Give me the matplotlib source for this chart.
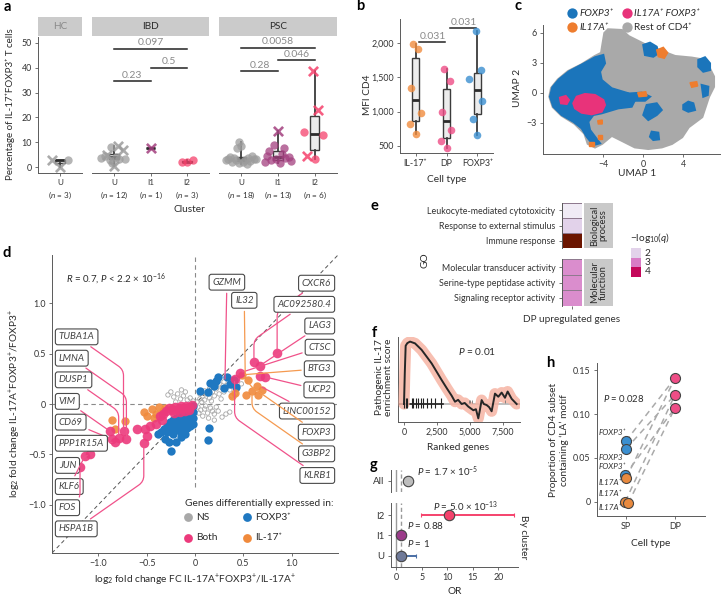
import numpy as np
import matplotlib
matplotlib.use("Agg")
import matplotlib.pyplot as plt
from matplotlib.colors import LinearSegmentedColormap

plt.rcParams["font.family"] = ["Lato", "DejaVu Sans"]
plt.rcParams["mathtext.fontset"] = "custom"
plt.rcParams["mathtext.rm"] = "Lato"
plt.rcParams["mathtext.it"] = "Lato:italic"
plt.rcParams["mathtext.bf"] = "Lato:bold"
plt.rcParams["axes.linewidth"] = 0.7
plt.rcParams["axes.edgecolor"] = "#5a5a5a"
plt.rcParams["text.color"] = "#2b2b2b"
plt.rcParams["xtick.color"] = "#5a5a5a"
plt.rcParams["ytick.color"] = "#5a5a5a"
plt.rcParams["xtick.labelcolor"] = "#333333"
plt.rcParams["ytick.labelcolor"] = "#333333"
plt.rcParams["xtick.labelsize"] = 6.4
plt.rcParams["ytick.labelsize"] = 6.4
plt.rcParams["xtick.major.size"] = 2.5
plt.rcParams["ytick.major.size"] = 2.5
plt.rcParams["xtick.major.width"] = 0.6
plt.rcParams["ytick.major.width"] = 0.6
plt.rcParams["xtick.major.pad"] = 2
plt.rcParams["ytick.major.pad"] = 2

# ================= data =================
# a: % IL-17+FOXP3+ per cluster
a_facets = ["HC", "IBD", "PSC"]
a_clusters = {"HC": ["U"], "IBD": ["U", "I1", "I2"], "PSC": ["U", "I1", "I2"]}
a_n = {"HC": [3], "IBD": [12, 1, 3], "PSC": [18, 13, 6]}
a_vals = {
    ("HC", "U"): [3.0, 0.2, 3.1],
    ("IBD", "U"): [8.7, 8.3, 7.0, 5.0, 4.3, 3.6, 3.5, 3.2, 2.9, 1.8, 0.7, 4.6],
    ("IBD", "I1"): [7.7],
    ("IBD", "I2"): [2.2, 2.2, 2.8],
    ("PSC", "U"): [10.0, 8.5, 7.8, 4.5, 4.1, 3.8, 3.6, 3.4, 3.2, 3.0, 2.8, 2.6, 2.3, 2.0, 1.7, 1.4, 3.5, 2.9],
    ("PSC", "I1"): [14.5, 9.0, 7.8, 6.5, 5.3, 4.5, 4.2, 3.8, 3.0, 2.6, 2.2, 1.8, 3.4],
    ("PSC", "I2"): [38.5, 23.0, 14.0, 13.0, 4.7, 3.5],
}
a_marks = {
    ("HC", "U"): "xxo",
    ("IBD", "U"): "xoxxooooooxo",
    ("IBD", "I1"): "x",
    ("IBD", "I2"): "ooo",
    ("PSC", "U"): "oooooooooooooooooo",
    ("PSC", "I1"): "xoooooooooooo",
    ("PSC", "I2"): "xxooxo",
}
a_jit = {
    ("HC", "U"): [-0.22, 0.0, 0.22],
    ("IBD", "U"): [0.1, -0.08, 0.25, -0.2, 0.05, -0.35, 0.3, 0.15, -0.1, -0.05, 0.0, -0.25],
    ("IBD", "I1"): [0.0],
    ("IBD", "I2"): [-0.15, 0.0, 0.15],
    ("PSC", "U"): [-0.05, 0.0, -0.1, 0.3, -0.3, 0.2, -0.2, 0.35, -0.35, 0.1, -0.15, 0.25, -0.25, 0.05, -0.05, 0.15, 0.4, -0.4],
    ("PSC", "I1"): [0.0, -0.1, 0.15, -0.25, 0.1, -0.3, 0.3, 0.2, -0.2, 0.35, -0.35, 0.05, -0.05],
    ("PSC", "I2"): [-0.05, 0.08, -0.3, 0.22, -0.22, 0.0],
}
a_pvals = {"IBD": [(0, 1, 34.5, "0.23"), (1, 2, 40.0, "0.5"), (0, 2, 47.5, "0.097")],
           "PSC": [(0, 1, 38.5, "0.28"), (1, 2, 43.0, "0.046"), (0, 2, 48.0, "0.0058")]}

# b: MFI CD4
b_types = ["IL-17⁺", "DP", "FOXP3⁺"]
b_vals = [[1980, 1920, 1350, 980, 820, 680],
          [1620, 1450, 1000, 730, 570, 470],
          [2180, 1600, 1480, 1160, 900, 660]]
b_jit = [[-0.08, 0.09, -0.13, 0.19, -0.18, 0.01],
         [-0.08, 0.11, -0.16, 0.16, -0.18, 0.0],
         [-0.05, 0.11, -0.26, 0.14, -0.16, 0.0]]
b_pvals = [(0, 1, 2010, "0.031"), (1, 2, 2215, "0.031")]

# c: UMAP region outlines (UMAP units)
c_rest = [(-3.47, 6.3), (-2.13, 6.23), (-1.47, 5.63), (-0.47, 5.13), (0.53, 4.63), (3.2, 3.63), (4.87, 3.47),
          (5.87, 3.3), (6.53, 2.63), (7.03, 1.63), (7.03, 0.63), (6.53, -0.37), (6.2, -1.37), (5.87, -2.37),
          (4.53, -3.37), (3.87, -4.37), (2.87, -5.03), (1.87, -5.37), (0.53, -5.53), (-0.8, -5.37),
          (-2.13, -4.7), (-3.13, -4.2), (-4.13, -5.03), (-4.8, -5.37), (-5.47, -5.03), (-5.8, -4.03),
          (-6.8, -3.03), (-8.13, -2.2), (-8.97, -1.37), (-9.3, -0.37), (-9.13, 0.47), (-8.47, 1.3),
          (-7.47, 2.13), (-6.13, 2.8), (-4.8, 3.63), (-4.13, 3.97), (-3.97, 4.97), (-3.8, 5.97)]
c_foxp3 = [
    [(-3.97, 3.8), (-3.8, 2.97), (-4.3, 2.13), (-4.13, 1.3), (-3.13, 0.47), (-1.47, -0.03), (-0.8, -0.7),
     (-1.13, -1.37), (-2.47, -1.53), (-4.13, -2.03), (-4.97, -2.2), (-5.47, -2.87), (-5.3, -3.7),
     (-4.8, -4.37), (-4.3, -5.03), (-4.97, -5.2), (-5.63, -4.37), (-6.13, -3.53), (-6.97, -2.87),
     (-8.13, -2.2), (-8.97, -1.37), (-9.3, -0.37), (-9.07, 0.57), (-8.4, 1.37), (-7.4, 2.17),
     (-6.07, 2.87), (-4.8, 3.57)],
    [(0.03, 4.8), (0.7, 5.03), (1.37, 4.63), (1.53, 3.97), (1.03, 3.63), (0.2, 3.8)],
    [(5.53, 3.3), (6.2, 3.57), (6.7, 2.97), (6.7, 2.3), (6.03, 2.13), (5.53, 2.63)],
    [(4.03, -1.2), (4.53, -0.87), (5.03, -1.03), (5.2, -1.7), (4.53, -1.87), (4.03, -1.63)],
    [(5.87, 0.8), (6.53, 0.63), (6.47, -0.2), (6.03, -0.37)],
    [(0.37, -1.2), (1.37, -1.03), (1.87, -1.7), (1.37, -2.2), (0.53, -2.7), (0.03, -2.2)],
    [(0.87, -3.87), (1.53, -3.97), (1.6, -4.63), (1.03, -4.7), (0.7, -4.37)],
    [(-2.13, -0.1), (-0.13, 0.03), (0.7, -0.37), (0.2, -0.77), (-1.13, -0.77)],
]
c_dp = [
    [(-6.97, -1.03), (-6.63, -0.37), (-5.8, -0.1), (-4.8, -0.2), (-3.97, -0.7), (-3.8, -1.2), (-4.13, -1.87),
     (-5.13, -2.13), (-6.13, -1.97), (-6.8, -1.53)],
    [(-8.3, -0.47), (-7.73, -0.3), (-7.4, -0.7), (-7.63, -1.1), (-8.2, -1.03)],
]
c_il17 = [
    [(1.37, 4.3), (2.03, 4.57), (2.47, 4.03), (2.13, 3.47), (1.53, 3.63)],
    [(4.7, 1.03), (5.37, 1.13), (5.47, 0.7), (4.87, 0.57)],
    [(-0.53, 0.03), (0.27, 0.13), (0.4, -0.3), (-0.4, -0.37)],
    [(-4.53, -2.77), (-4.07, -2.7), (-4.07, -3.1), (-4.47, -3.1)],
    [(-4.53, -4.2), (-4.07, -4.2), (-4.07, -4.63), (-4.53, -4.63)],
    [(-5.37, -4.87), (-4.93, -4.87), (-4.93, -5.27), (-5.37, -5.27)],
]

# d: log2 fold changes
d_ns_x = [0.02, 0.05, 0.08, 0.10, 0.12, 0.15, 0.18, 0.20, 0.22, 0.25, 0.28, 0.30, 0.33, 0.36, 0.40, 0.44, 0.48,
          0.38, 0.42, 0.05, 0.10, 0.15, 0.20, 0.25, 0.30, 0.07, 0.17, 0.27,
          0.03, 0.06, 0.10, 0.13, 0.16, 0.20, 0.24, 0.28, 0.32, 0.08, 0.14, 0.20, 0.04, 0.22, 0.36, 0.11, 0.18,
          -0.02, -0.05, -0.08, -0.12, -0.15, -0.18, -0.22, -0.25, -0.28, -0.10, -0.14, -0.20]
d_ns_y = [0.02, 0.05, 0.08, 0.04, 0.10, 0.06, 0.12, 0.08, 0.15, 0.10, 0.16, 0.12, 0.18, 0.14, 0.18, 0.15, 0.20,
          0.08, 0.10, 0.10, 0.13, 0.15, 0.18, 0.20, 0.22, 0.02, 0.03, 0.05,
          -0.03, -0.06, -0.05, -0.09, -0.04, -0.10, -0.07, -0.13, -0.10, -0.12, -0.14, -0.16, -0.09, -0.03, -0.08, -0.02, -0.07,
          0.03, 0.06, 0.04, 0.08, 0.05, 0.10, 0.07, 0.12, 0.09, 0.12, 0.14, 0.02]
d_fox_x = [-0.02, -0.02, -0.02, -0.02, -0.05, -0.05, -0.05, -0.05, -0.08, -0.08, -0.08, -0.08,
           -0.11, -0.11, -0.11, -0.11, -0.14, -0.14, -0.14, -0.14, -0.17, -0.17, -0.17, -0.20, -0.20, -0.20,
           -0.23, -0.23, -0.23, -0.26, -0.26, -0.29, -0.29, -0.32, -0.35, -0.38,
           -0.27, -0.20, -0.15, -0.25, -0.10, -0.31, 0.14, 0.13,
           0.05, 0.13, 0.16, 0.20, 0.24, 0.22, 0.33, 0.36, 0.40, 0.42, 0.30]
d_fox_y = [-0.02, -0.08, -0.14, -0.20, -0.04, -0.10, -0.16, -0.22, -0.06, -0.12, -0.18, -0.24,
           -0.08, -0.14, -0.20, -0.26, -0.10, -0.16, -0.22, -0.28, -0.12, -0.18, -0.24, -0.14, -0.20, -0.26,
           -0.16, -0.22, -0.30, -0.18, -0.25, -0.22, -0.28, -0.25, -0.28, -0.30,
           -0.38, -0.38, -0.33, -0.47, -0.30, -0.35, -0.24, -0.36,
           0.13, 0.12, 0.21, 0.18, 0.27, 0.23, 0.27, 0.20, 0.24, 0.17, 0.16]
d_both_x = [-0.03, -0.06, -0.09, -0.12, -0.15, -0.18, -0.21, -0.24, -0.27, -0.30, -0.10, -0.16, -0.22, -0.06,
            -0.33, -0.36, -0.88, -0.74, -0.71, -0.79, -0.60, -0.52, -0.50, -0.53, -0.47, -0.40, -0.34,
            -0.86, -0.83, -1.09, -1.14, -1.19, 0.85, 0.61, 0.67, 0.67, 0.72, 0.465, 0.41]
d_both_y = [-0.01, -0.03, -0.02, -0.04, -0.02, -0.05, -0.03, -0.06, -0.04, -0.07, -0.07, -0.08, -0.09, -0.06,
            -0.10, -0.12, -0.27, -0.27, -0.35, -0.34, -0.25, -0.25, -0.32, -0.39, -0.22, -0.20, -0.155,
            -0.35, -0.38, -0.50, -0.52, -0.63, 0.51, 0.42, 0.38, 0.28, 0.27, 0.31, 0.25]
d_il17_x = [-0.86, -0.83, -0.72, -0.53, -0.50, -0.45, -0.40, -0.42, -0.33, -0.31, -0.24, -0.37,
            0.55, 0.64, 0.69, 0.655, 0.59, 0.53, 0.41, 0.38, 0.49]
d_il17_y = [-0.155, -0.25, -0.17, -0.08, -0.12, -0.05, -0.10, -0.14, -0.07, -0.04, -0.04, -0.03,
            0.24, 0.18, 0.14, 0.09, 0.125, 0.09, 0.11, 0.075, 0.29]
d_lab_left = ["TUBA1A", "LMNA", "DUSP1", "VIM", "CD69", "PPP1R15A", "JUN", "KLF6", "FOS", "HSPA1B"]
d_lab_left_y = [0.667, 0.455, 0.24, 0.026, -0.18, -0.39, -0.61, -0.82, -1.03, -1.24]
d_lab_left_pt = [(-0.74, -0.27), (-0.71, -0.35), (-0.79, -0.34), (-0.88, -0.27), (-0.86, -0.35),
                 (-0.83, -0.38), (-1.09, -0.50), (-1.14, -0.52), (-1.19, -0.63), (-0.53, -0.39)]
d_lab_right = ["CXCR6", "AC092580.4", "LAG3", "CTSC", "BTG3", "UCP2", "LINC00152", "FOXP3", "G3BP2", "KLRB1"]
d_lab_right_y = [1.20, 0.99, 0.775, 0.564, 0.35, 0.14, -0.07, -0.28, -0.495, -0.71]
d_lab_right_pt = [(0.85, 0.51), (0.61, 0.42), (0.67, 0.38), (0.465, 0.31), (0.49, 0.29), (0.72, 0.27),
                  (0.67, 0.18), (0.55, 0.24), (0.59, 0.125), (0.41, 0.25)]
d_lab_right_grp = ["Both", "Both", "Both", "Both", "IL-17", "Both", "Both", "IL-17", "IL-17", "Both"]
d_lab_top = ["GZMM", "IL32"]
d_lab_top_xy = [(0.33, 1.21), (0.51, 1.03)]
d_lab_top_pt = [(0.31, 0.22), (0.52, 0.27)]
d_lab_top_grp = ["Both", "IL-17"]

# e: GO enrichment
e_terms_bp = ["Leukocyte-mediated cytotoxicity", "Response to external stimulus", "Immune response"]
e_q_bp = [1.6, 2.0, 6.0]
e_terms_mf = ["Molecular transducer activity", "Serine-type peptidase activity", "Signaling receptor activity"]
e_q_mf = [2.8, 2.8, 2.8]

# f: enrichment curve
f_rank = [0, 60, 126, 250, 455, 833, 1338, 2096, 2854, 3300, 3611, 3864, 4100, 4369, 4600, 4874, 5253,
          5450, 5631, 5760, 5884, 6050, 6263, 6450, 6641, 6894, 7146, 7399, 7652, 7854, 8157, 8535]
f_es = [0, 0.30, 0.56, 0.585, 0.60, 0.583, 0.52, 0.39, 0.23, 0.14, 0.08, 0.022, 0.04, 0.0, 0.01, -0.025,
        -0.06, -0.05, -0.138, -0.05, 0.038, 0.0, -0.01, -0.03, -0.07, 0.10, 0.07, 0.11, 0.06, 0.12, 0.05, 0.0]
f_hits = [25, 126, 253, 580, 707, 884, 1086, 1288, 1465, 1717, 2045, 2348, 2803]
f_hits_late = [4900, 5020, 5150, 7650]

# g: odds ratios
g_rows = ["I2", "I1", "U"]
g_or = [10.4, 0.95, 0.9]
g_lo = [4.9, 0.7, 0.0]
g_hi = [23.0, 1.3, 3.8]
g_p = ["$P$ = 5.0 × 10$^{-13}$", "$P$ = 0.88", "$P$ = 1"]
g_all = (2.3, 1.7, 3.0)
g_all_p = "$P$ = 1.7 × 10$^{-5}$"

# h: LA motif proportions
h_sp_foxp3 = [0.069, 0.060, 0.030]
h_sp_il17 = [0.027, 0.000, -0.002]
h_dp = [0.141, 0.122, 0.107]
h_labels = ["FOXP3⁺", "FOXP3", "FOXP3⁺", "IL17A⁺", "IL17A⁺", "IL17A⁺"]
h_label_y = [0.0785, 0.0506, 0.0403, 0.0218, 0.0088, -0.0069]

# ================= colours =================
GREY = "#9c9c9c"
PURPLE = "#a3407f"
RED = "#f5426c"
a_col = {"U": GREY, "I1": PURPLE, "I2": RED}
b_col = ["#f08c3e", "#ee4d86", "#3b8fd0"]
grp_col = {"Both": "#f0528a", "IL-17": "#f59a50"}

W, H = 721, 598
fig = plt.figure(figsize=(W / 100, H / 100), dpi=100)


def add_ax(l, t, r, b):
    return fig.add_axes([l / W, 1 - b / H, (r - l) / W, (b - t) / H])


def clean(ax):
    ax.spines["top"].set_visible(False)
    ax.spines["right"].set_visible(False)


ov = fig.add_axes([0, 0, 1, 1], zorder=20)
ov.set_xlim(0, W)
ov.set_ylim(H, 0)
ov.axis("off")


def otext(x, y, s, **kw):
    kw.setdefault("fontsize", 7.3)
    kw.setdefault("ha", "center")
    kw.setdefault("va", "center")
    ov.text(x, y, s, **kw)


# ================= a =================
a_px = {"HC": (38, 82), "IBD": (92, 209), "PSC": (219, 337)}
for f in a_facets:
    l, r = a_px[f]
    ax = add_ax(l, 37, r, 173)
    clean(ax)
    cls = a_clusters[f]
    for i, cl in enumerate(cls):
        vals = a_vals[(f, cl)]
        ax.boxplot([vals], positions=[i], widths=0.25, whis=(0, 100), showfliers=False,
                   patch_artist=True, manage_ticks=False,
                   boxprops=dict(facecolor="#ececec", edgecolor="#3c3c3c", linewidth=1.0),
                   medianprops=dict(color="#2c2c2c", linewidth=2.0),
                   whiskerprops=dict(color="#3c3c3c", linewidth=1.3),
                   capprops=dict(linewidth=0))
        for v, j, m in zip(vals, a_jit[(f, cl)], a_marks[(f, cl)]):
            if m == "o":
                ax.scatter(i + j, v, s=36, color=a_col[cl], alpha=0.75, linewidths=0, zorder=3)
            else:
                ax.scatter(i + j, v, s=44, marker="x", color=a_col[cl], alpha=0.85, linewidths=1.9, zorder=3)
    for i0, i1, yb, lab in a_pvals.get(f, []):
        ax.plot([i0, i1], [yb, yb], color="#222222", lw=1.1)
        ax.text((i0 + i1) / 2, yb + 0.6, lab, ha="center", va="bottom", fontsize=7.5, color="#8a8a8a")
    ax.set_xlim(-0.6, len(cls) - 0.4)
    ax.set_ylim(-2.3, 52.3)
    ax.set_xticks(range(len(cls)))
    ax.set_xticklabels([f"{c}\n($n$ = {n})" for c, n in zip(cls, a_n[f])], fontsize=5.9, linespacing=1.4)
    if f == "HC":
        ax.set_yticks([0, 10, 20, 30, 40, 50])
    else:
        ax.spines["left"].set_visible(False)
        ax.set_yticks([])
    st = add_ax(l, 17, r, 36)
    st.set_facecolor("#cbcbcb")
    st.set_xticks([])
    st.set_yticks([])
    for s in st.spines.values():
        s.set_visible(False)
    st.text(0.5, 0.5, f, ha="center", va="center", fontsize=7.2,
            color="#8a8a8a" if f == "HC" else "#2b2b2b", transform=st.transAxes)

otext(10, 104, "Percentage of IL-17⁺FOXP3⁺ T cells", rotation=90, fontsize=7)
otext(189, 209, "Cluster")

# ================= b =================
ax = add_ax(400, 19, 493, 153)
clean(ax)
for i, vals in enumerate(b_vals):
    ax.boxplot([vals], positions=[i], widths=0.2, whis=(0, 100), showfliers=False,
               patch_artist=True, manage_ticks=False,
               boxprops=dict(facecolor="#ececec", edgecolor="#3c3c3c", linewidth=1.0),
               medianprops=dict(color="#2c2c2c", linewidth=2.0),
               whiskerprops=dict(color="#3c3c3c", linewidth=1.3),
               capprops=dict(linewidth=0))
    ax.scatter(np.array(b_jit[i]) + i, vals, s=30, color=b_col[i], alpha=0.8, linewidths=0, zorder=3)
for i0, i1, yb, lab in b_pvals:
    ax.plot([i0 + 0.1, i1 - 0.05], [yb, yb], color="#222222", lw=1.1)
    ax.text((i0 + i1) / 2 + 0.05, yb + 20, lab, ha="center", va="bottom", fontsize=7.5, color="#8a8a8a")
ax.set_xlim(-0.5, 2.5)
ax.set_ylim(398, 2350)
ax.set_yticks([500, 1000, 1500, 2000])
ax.set_yticklabels(["500", "1,000", "1,500", "2,000"])
ax.set_xticks([0, 1, 2])
ax.set_xticklabels(b_types)
otext(447, 180, "Cell type")
otext(367, 95, "MFI CD4", rotation=90)

# ================= c =================
ax = add_ax(543, 25, 720, 154)
clean(ax)
ax.fill(*zip(*c_rest), color="#a9a9a9", lw=2.5, ec="#a9a9a9")
for poly in c_foxp3:
    ax.fill(*zip(*poly), color="#1b75bb", lw=1.5, ec="#1b75bb")
for poly in c_il17:
    ax.fill(*zip(*poly), color="#ee7d2f", lw=1.0, ec="#ee7d2f")
for poly in c_dp:
    ax.fill(*zip(*poly), color="#e8337a", lw=1.5, ec="#e8337a")
ax.set_xlim(-10, 7.7)
ax.set_ylim(-6.1, 6.8)
ax.set_xticks([-4, 0, 4])
ax.set_yticks([-3, 0, 3, 6])
otext(637, 173, "UMAP 1")
otext(518, 88, "UMAP 2", rotation=90)
for (mx, my), col, lab in zip([(572, 13), (627, 13), (572, 27), (627, 27)],
                              ["#1b75bb", "#e8337a", "#ee7d2f", "#a9a9a9"],
                              ["FOXP3⁺", "IL17A⁺ FOXP3⁺", "IL17A⁺", "Rest of CD4⁺"]):
    ov.scatter(mx, my, s=55, color=col, linewidths=0)
    otext(mx + 7, my, lab, ha="left", fontstyle="normal" if lab.startswith("Rest") else "italic")

# ================= d =================
ax = add_ax(52, 255, 338, 553)
clean(ax)
dash = (0, (4, 3))
ax.axhline(0, color="#8a8a8a", lw=0.8, ls=dash, zorder=1)
ax.plot([0, 0], [-0.82, 1.48], color="#8a8a8a", lw=0.8, ls=dash, zorder=1)
ax.plot([-1.48, 1.48], [-1.48, 1.48], color="#555555", lw=0.7, ls=dash, zorder=1)
ax.scatter(d_ns_x, d_ns_y, s=10, facecolors="none", edgecolors="#a8a8a8", linewidths=0.6, zorder=2)
ax.scatter(d_fox_x, d_fox_y, s=36, color="#1f78c1", linewidths=0, zorder=3)
ax.scatter(d_il17_x, d_il17_y, s=36, color="#f08a3c", alpha=0.9, linewidths=0, zorder=4)
ax.scatter(d_both_x, d_both_y, s=48, color="#ec3a7c", alpha=0.9, linewidths=0, zorder=5)
box = dict(boxstyle="round,pad=0.35,rounding_size=0.25", fc="white", ec="#4a4a4a", lw=0.8)


def d_label(lab, xy, pt, g, ha):
    dy = pt[1] - xy[1]
    if ha == "center" or abs(dy) < 0.4:
        cs = "arc3"
    else:
        ang = 35 if dy > 0 else -35
        if ha == "right":
            ang = -ang
        cs = f"angle,angleA={ang},angleB=90,rad=6"
    ax.annotate(lab, xy=pt, xytext=xy, ha=ha, va="center", fontsize=7, fontstyle="italic",
                color="#444444", bbox=box, zorder=6,
                arrowprops=dict(arrowstyle="-", color=grp_col[g], lw=0.9, shrinkB=2, connectionstyle=cs))


for lab, y, pt in zip(d_lab_left, d_lab_left_y, d_lab_left_pt):
    d_label(lab, (-1.41, y), pt, "Both", "left")
for lab, y, pt, g in zip(d_lab_right, d_lab_right_y, d_lab_right_pt, d_lab_right_grp):
    d_label(lab, (1.41, y), pt, g, "right")
for lab, xy, pt, g in zip(d_lab_top, d_lab_top_xy, d_lab_top_pt, d_lab_top_grp):
    d_label(lab, xy, pt, g, "center")
ax.text(-1.34, 1.24, "$R$ = 0.7, $P$ < 2.2 × 10$^{-16}$", fontsize=7, va="center")
ax.set_xlim(-1.48, 1.48)
ax.set_ylim(-1.48, 1.48)
ax.set_xticks([-1, -0.5, 0, 0.5, 1])
ax.set_xticklabels(["−1.0", "−0.5", "0", "0.5", "1.0"])
ax.set_yticks([-1, -0.5, 0, 0.5, 1])
ax.set_yticklabels(["−1.0", "−0.5", "0", "0.5", "1.0"])
otext(195, 580, "log$_2$ fold change FC IL-17A$^{+}$FOXP3$^{+}$/IL-17A$^{+}$")
otext(15, 403, "log$_2$ fold change IL-17A$^{+}$FOXP3$^{+}$/FOXP3$^{+}$", rotation=90)
otext(185, 504, "Genes differentially expressed in:", ha="left")
for (mx, my), col, lab in zip([(188, 517), (247, 517), (188, 538), (247, 538)],
                              ["#a8a8a8", "#1f78c1", "#ec3a7c", "#f08a3c"],
                              ["NS", "FOXP3⁺", "Both", "IL-17⁺"]):
    ov.scatter(mx, my, s=40, color=col, linewidths=0)
    otext(mx + 8, my, lab, ha="left")

# ================= e =================
e_cmap = LinearSegmentedColormap.from_list("q", [(0, "#f4f1f8"), (0.2, "#e2d2ea"), (0.6, "#d87cc6"), (1, "#c4075a")])
e_cmap.set_over("#6b1500")
for vals, terms, (t, b), strip in [(e_q_bp, e_terms_bp, (202.7, 248.3), "Biological\nprocess"),
                                   (e_q_mf, e_terms_mf, (259.3, 305.7), "Molecular\nfunction")]:
    ax = add_ax(561.7, t, 582.3, b)
    ax.pcolormesh(np.array(vals)[:, None], cmap=e_cmap, vmin=1.5, vmax=4, edgecolors="#8f7a8f", linewidth=0.5)
    ax.set_ylim(3, 0)
    ax.set_xlim(0, 1)
    ax.set_yticks([0.5, 1.5, 2.5])
    ax.set_yticklabels(terms, fontsize=6.4)
    for s in ["top", "right", "bottom"]:
        ax.spines[s].set_visible(False)
    if strip.startswith("Mol"):
        ax.set_xticks([0.5])
        ax.set_xticklabels(["DP upregulated genes"], fontsize=7.2)
        ax.tick_params(axis="x", pad=4)
    else:
        ax.set_xticks([])
    st = add_ax(584.3, t, 612.7, b)
    st.set_facecolor("#c9c9c9")
    st.set_xticks([])
    st.set_yticks([])
    for s in st.spines.values():
        s.set_visible(False)
    st.text(0.5, 0.5, strip, rotation=90, ha="center", va="center", fontsize=6.8,
            linespacing=0.95, transform=st.transAxes)
otext(425, 260, "GO", rotation=90)
otext(630, 238, "−log$_{10}$($q$)", ha="left")
for k, q in enumerate([2, 3, 4]):
    ov.add_patch(plt.Rectangle((631, 248.3 + k * 9.4), 10, 9.4, color=e_cmap((q - 1.5) / 2.5), lw=0))
    otext(645, 253 + k * 9.4, str(q), ha="left")

# ================= f =================
ax = add_ax(398, 336.7, 520, 421.7)
clean(ax)
ax.axhline(0, color="#b5b5b5", lw=1.2, zorder=1)
ax.plot([-455, 2980], [0, 0], color="#222222", lw=1.2, zorder=2)
ax.plot([8600, 8790], [0, 0], color="#222222", lw=1.2, zorder=2)
ax.vlines(f_hits, -0.04, 0.055, color="#222222", lw=0.8, zorder=4)
ax.vlines(f_hits_late, 0.012, 0.04, color="#777777", lw=0.6, zorder=4)
ax.plot(f_rank, f_es, color="#f6b4a4", lw=8, alpha=0.85, solid_capstyle="round", solid_joinstyle="round", zorder=3)
ax.plot(f_rank, f_es, color="#262626", lw=1.4, zorder=5)
ax.set_xlim(-455, 8790)
ax.set_ylim(-0.17, 0.647)
ax.set_yticks([])
ax.set_xticks([0, 2500, 5000, 7500])
ax.set_xticklabels(["0", "2,500", "5,000", "7,500"])
otext(476.7, 351.7, "$P$ = 0.01")
otext(384, 377, "Pathogenic IL-17\nenrichment score", rotation=90, linespacing=1.0)
otext(458, 447, "Ranked genes")

# ================= g =================
axg1 = add_ax(391, 470, 518.3, 491.7)
axg2 = add_ax(391, 503.3, 518.3, 566.7)
for a in (axg1, axg2):
    clean(a)
    a.axvline(0, color="#9a9a9a", lw=1.0, zorder=1)
    a.axvline(1, color="#9a9a9a", lw=1.0, ls=(0, (3, 2)), zorder=1)
    a.set_xlim(-1.04, 23.9)
axg1.errorbar([g_all[0]], [0], xerr=[[g_all[0] - g_all[1]], [g_all[2] - g_all[0]]], fmt="o", ms=7.5,
              mfc="#bdbdbd", mec="#444444", mew=0.8, ecolor="#bdbdbd", elinewidth=1.2, zorder=3)
axg1.text(4.0, 0.42, g_all_p, fontsize=7, va="center", ha="left", clip_on=False)
axg1.set_ylim(-0.5, 0.5)
axg1.set_yticks([0])
axg1.set_yticklabels(["All"], fontsize=7)
axg1.spines["bottom"].set_visible(False)
axg1.set_xticks([])
g_fill = ["#f5426c", "#9b3c8a", "#6f7a99"]
g_err = ["#f5426c", "#9b3c8a", "#4b6fa5"]
g_ty = [0.42, 0.47, 0.58]
g_tx = [7.25, 2.04, 2.04]
for k, (r, o, lo, hi, p) in enumerate(zip(g_rows, g_or, g_lo, g_hi, g_p)):
    y = 3 - k
    axg2.errorbar([o], [y], xerr=[[o - lo], [hi - o]], fmt="o", ms=7.5, mfc=g_fill[k], mec="#444444",
                  mew=0.8, ecolor=g_err[k], elinewidth=1.4, capsize=1.5, zorder=3)
    axg2.text(g_tx[k], y + g_ty[k], p, fontsize=7, va="center", ha="left")
axg2.set_ylim(0.46, 3.58)
axg2.set_yticks([3, 2, 1])
axg2.set_yticklabels(g_rows, fontsize=7)
axg2.set_xticks([0, 5, 10, 15, 20])
otext(455, 591.7, "OR")
otext(523.3, 536.7, "By cluster", rotation=270)

# ================= h =================
ax = add_ax(596.7, 363.3, 705, 516)
clean(ax)
sp_x_fox = [1.0, 1.0, 0.98]
sp_x_il = [1.01, 0.99, 1.05]
for i in range(3):
    ax.plot([sp_x_fox[i], 2], [h_sp_foxp3[i], h_dp[i]], ls=(0, (4, 3)), color="#aaaaaa", lw=1.1, zorder=1)
    ax.plot([sp_x_il[i], 2], [h_sp_il17[i], h_dp[i]], ls=(0, (4, 3)), color="#aaaaaa", lw=1.1, zorder=1)
ax.scatter(sp_x_fox, h_sp_foxp3, s=52, color="#3b8fd0", edgecolors="#444444", linewidths=0.8, zorder=3)
ax.scatter(sp_x_il, h_sp_il17, s=52, color="#e98a3f", edgecolors="#444444", linewidths=0.8, zorder=3)
ax.scatter([2, 2, 2], h_dp, s=52, color="#ee4d86", edgecolors="#444444", linewidths=0.8, zorder=3)
for lab, y in zip(h_labels, h_label_y):
    ax.text(0.44, y, lab, fontsize=5.9, fontstyle="italic", ha="left", va="center", color="#333333")
ax.text(0.545, 0.118, "$P$ = 0.028", fontsize=6.8, va="center")
ax.set_xlim(0.41, 2.61)
ax.set_ylim(-0.0164, 0.158)
ax.set_xticks([1, 2])
ax.set_xticklabels(["SP", "DP"])
ax.set_yticks([0, 0.05, 0.10, 0.15])
ax.set_yticklabels(["0", "0.05", "0.10", "0.15"])
otext(559, 440, "Proportion of CD4 subset\ncontaining ‘LA’ motif", rotation=90, linespacing=1.1)
otext(651, 544, "Cell type")

# ================= panel letters =================
for lab, x, y in [("a", 7, 7), ("b", 360, 6), ("c", 518, 6), ("d", 7, 253), ("e", 374, 206),
                  ("f", 374, 333), ("g", 374, 465), ("h", 550, 363)]:
    otext(x, y, lab, fontsize=10.5, fontweight="bold", color="black")

fig.savefig("out.png", dpi=100)
